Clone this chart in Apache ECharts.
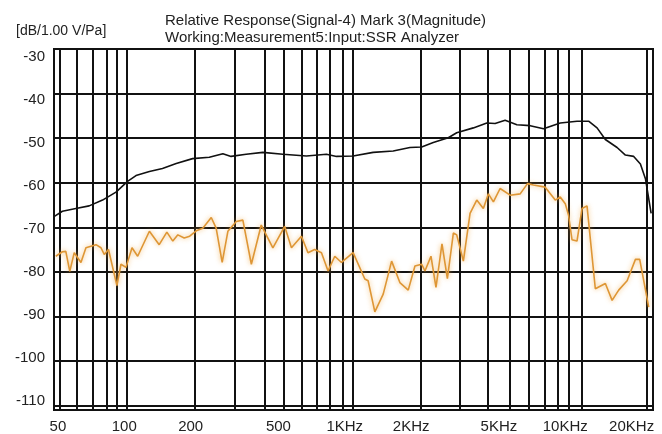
<!DOCTYPE html>
<html>
<head>
<meta charset="utf-8">
<script src="https://cdn.jsdelivr.net/npm/echarts@6/dist/echarts.min.js"></script>
<style>
  html, body { margin: 0; padding: 0; background: #fff; }
  #chart { width: 662px; height: 434px; }
</style>
</head>
<body>
<div id="chart"></div>
<script>
// black trace: frequency (Hz) and level (dB)
const blackFreq = [48, 52.4, 60.3, 69.3, 79.7, 91.7, 103.5, 113, 130, 149, 172, 204, 243, 280, 305, 357, 425, 524, 670, 826, 917, 1091, 1345, 1658, 1975, 2232, 2520, 2948, 3219, 3830, 4408, 4807, 5337, 6032, 6934, 7969, 9490, 11305, 12763, 13938, 15200, 17180, 18740, 20440, 21920, 23100, 24520];
const blackDb = [-67.6, -66.4, -65.8, -65.2, -63.9, -62.1, -59.7, -58.4, -57.5, -56.8, -55.7, -54.6, -54.3, -53.5, -54.1, -53.6, -53.2, -53.6, -54.0, -53.6, -54.1, -54.0, -53.2, -52.9, -52.1, -52.0, -51.0, -49.9, -48.8, -47.7, -46.6, -46.7, -46.0, -47.0, -47.2, -47.9, -46.6, -46.2, -46.2, -47.7, -50.3, -52.1, -53.8, -54.1, -55.8, -59.1, -66.9];

// orange trace
const orangeFreq = [48.9, 52.4, 54.3, 56.6, 59.3, 63.6, 67, 74.4, 78.4, 81.1, 84.8, 87.9, 92.6, 96.6, 101.8, 108.4, 115, 130, 144, 156, 166, 175, 187, 198, 212, 227, 248, 261, 278, 295, 322, 345, 377, 418, 472, 534, 573, 636, 681, 730, 784, 840, 901, 966, 1091, 1233, 1276, 1369, 1494, 1631, 1778, 1940, 2081, 2232, 2310, 2460, 2592, 2760, 2920, 3108, 3219, 3450, 3700, 3968, 4252, 4481, 4722, 5064, 5623, 6245, 6741, 7176, 8111, 9006, 9490, 10000, 10350, 10730, 11305, 11910, 12550, 13690, 15200, 16310, 17470, 19080, 20810, 21760, 23910];
const orangeDb = [-76.5, -75.5, -75.4, -79.9, -75.7, -77.9, -74.6, -73.9, -74.6, -76.1, -75.0, -78.3, -83.1, -78.3, -79.0, -74.6, -76.5, -70.9, -73.9, -71.1, -73.1, -71.7, -72.4, -72.0, -70.8, -70.2, -67.8, -70.2, -77.9, -70.9, -68.7, -68.4, -78.3, -69.5, -74.6, -69.8, -74.6, -72.0, -75.7, -75.0, -75.7, -79.8, -76.5, -77.9, -75.7, -81.6, -82.0, -89.0, -85.0, -77.6, -82.4, -84.1, -78.7, -78.3, -79.8, -76.5, -83.5, -73.7, -81.5, -71.3, -71.7, -77.6, -66.9, -63.9, -65.8, -62.5, -64.3, -61.3, -62.8, -62.5, -60.2, -60.5, -61.0, -63.9, -63.2, -64.7, -67.3, -72.8, -73.1, -65.8, -65.2, -83.8, -82.6, -86.4, -84.1, -82.0, -77.2, -77.2, -87.9];

// frequency labels and grid lines
const freqLabels = [50, 100, 200, 500, 1000, 2000, 5000, 10000, 20000];
const freqGrid = [51, 61, 72, 83, 92, 103, 209, 316, 432, 528, 636, 749, 859, 977, 1082, 2222, 3333, 4443, 5623, 6824, 8070, 9216, 10384, 11860, 23300];
const dbTicks = [-110, -100, -90, -80, -70, -60, -50, -40, -30];

const font = '"Liberation Sans", Arial, sans-serif';

let chart = echarts.init(document.getElementById('chart'), null, { renderer: 'canvas' });

function zip(xs, ys) {
  return xs.map((x, i) => [x, ys[i]]);
}

function freqText(v) {
  if (v >= 1000) return (v / 1000) + 'KHz';
  return String(v);
}

chart.setOption({
  animation: false,
  backgroundColor: '#fff',
  title: [
    {
      text: 'Relative Response(Signal-4) Mark 3(Magnitude)\nWorking:Measurement5:Input:SSR Analyzer',
      left: 160,
      top: 7,
      textStyle: { fontFamily: font, fontSize: 15, fontWeight: 'normal', color: '#222', lineHeight: 17 }
    },
    {
      text: '[dB/1.00 V/Pa]',
      left: 11,
      top: 19,
      textStyle: { fontFamily: font, fontSize: 14, fontWeight: 'normal', color: '#222' }
    }
  ],
  grid: {
    left: 54,
    right: 9,
    top: 49,
    bottom: 23,
    show: true,
    borderColor: '#111',
    borderWidth: 2,
    backgroundColor: '#fff'
  },
  xAxis: {
    type: 'log',
    min: 48,
    max: 25000,
    axisLine: { show: false },
    axisTick: { show: false, customValues: freqGrid },
    splitLine: { show: true, lineStyle: { color: '#111', width: 2 } },
    axisLabel: {
      customValues: freqLabels,
      formatter: freqText,
      fontFamily: font,
      fontSize: 15,
      color: '#222',
      margin: 9
    }
  },
  yAxis: [
    {
      // grid lines
      type: 'value',
      min: -111,
      max: -30,
      axisLine: { show: false },
      axisTick: { show: false, customValues: dbTicks },
      splitLine: { show: true, lineStyle: { color: '#111', width: 2 } },
      axisLabel: { show: false }
    },
    {
      // labels sit a little off the lines in the original
      type: 'value',
      position: 'left',
      min: -112.2,
      max: -28.2,
      axisLine: { show: false },
      axisTick: { show: false, customValues: dbTicks },
      splitLine: { show: false },
      axisLabel: {
        customValues: dbTicks,
        fontFamily: font,
        fontSize: 15,
        color: '#222',
        margin: 9
      }
    }
  ],
  series: [
    {
      type: 'line',
      data: zip(blackFreq, blackDb),
      symbol: 'none',
      lineStyle: { color: '#111', width: 1.6 },
      z: 3
    },
    {
      type: 'line',
      data: zip(orangeFreq, orangeDb),
      symbol: 'none',
      lineStyle: {
        color: '#DE9635',
        width: 1.6,
        shadowColor: 'rgba(240,170,70,0.8)',
        shadowBlur: 5
      },
      z: 4
    }
  ]
});
</script>
</body>
</html>
